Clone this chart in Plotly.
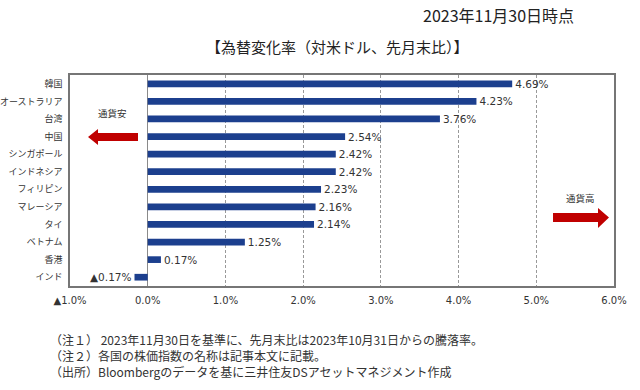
import plotly.graph_objects as go

categories = ["韓国", "オーストラリア", "台湾", "中国", "シンガポール", "インドネシア",
              "フィリピン", "マレーシア", "タイ", "ベトナム", "香港", "インド"]
values = [4.69, 4.23, 3.76, 2.54, 2.42, 2.42, 2.23, 2.16, 2.14, 1.25, 0.17, -0.17]
value_labels = ["4.69%", "4.23%", "3.76%", "2.54%", "2.42%", "2.42%", "2.23%",
                "2.16%", "2.14%", "1.25%", "0.17%", "▲0.17%"]
tick_vals = [-1, 0, 1, 2, 3, 4, 5, 6]
tick_text = ["▲1.0%", "0.0%", "1.0%", "2.0%", "3.0%", "4.0%", "5.0%", "6.0%"]

W, H = 640, 390
L, R, T, B = 70, 26, 75, 104
pw, ph = W - L - R, H - T - B


def px(x):
    return (x - L) / pw


def py(y):
    return (H - B - y) / ph


def arrow(points):
    return "M " + " L ".join(f"{px(a):.4f},{py(b):.4f}" for a, b in points) + " Z"


fig = go.Figure()
fig.add_trace(go.Bar(
    y=categories, x=values, orientation="h",
    marker=dict(color="#1c3f8e", line=dict(width=0)),
    text=value_labels, textposition="outside", cliponaxis=False,
    constraintext="none",
    textfont=dict(family="DejaVu Sans", size=10.5, color="#333333"),
    hoverinfo="skip",
))

fig.update_layout(
    width=W, height=H, margin=dict(l=L, r=R, t=T, b=B, autoexpand=False),
    paper_bgcolor="white", plot_bgcolor="white",
    bargap=0.62, showlegend=False,
    font=dict(family="Noto Sans CJK JP", color="#333333"),
    xaxis=dict(range=[-1, 6], tickvals=tick_vals, ticktext=tick_text,
               tickfont=dict(family="DejaVu Sans", size=10, color="#333333"),
               showgrid=True, gridcolor="#999999", griddash="3px,2px", gridwidth=1,
               zeroline=True, zerolinecolor="#8a8a8a", zerolinewidth=1.2,
               showline=True, linecolor="#767676", linewidth=1.5, mirror=True,
               ticks="outside", ticklen=4, tickcolor="rgba(0,0,0,0)",
               fixedrange=True, automargin=False),
    yaxis=dict(categoryorder="array", categoryarray=categories[::-1],
               tickfont=dict(family="Noto Sans CJK JP", size=9, color="#333333"),
               showgrid=False, showline=True, linecolor="#767676", linewidth=1.5,
               mirror=True, ticks="outside", ticklen=4, tickcolor="rgba(0,0,0,0)",
               fixedrange=True, automargin=False),
)


def note(text, x, y, size, color="#333333", xanchor="center"):
    fig.add_annotation(text=text, xref="paper", yref="paper", x=px(x), y=py(y),
                       xanchor=xanchor, yanchor="middle", showarrow=False,
                       font=dict(family="Noto Sans CJK JP", size=size, color=color))


note("2023年11月30日時点", 498, 15, 16, "#222222")
note("【為替変化率（対米ドル、先月末比）】", 337, 47, 15, "#222222")
note("通貨安", 112, 113, 9.5)
note("通貨高", 580, 198, 9.5)

notes = ["（注１） 2023年11月30日を基準に、先月末比は2023年10月31日からの騰落率。",
         "（注２）各国の株価指数の名称は記事本文に記載。",
         "（出所）Bloombergのデータを基に三井住友DSアセットマネジメント作成"]
for i, n in enumerate(notes):
    note(n, 48, 339 + 16 * i, 12, xanchor="left")

fig.add_shape(type="path", xref="paper", yref="paper", line=dict(width=0),
              fillcolor="#c00000",
              path=arrow([(138, 133), (98, 133), (98, 129), (88, 137), (98, 145), (98, 141), (138, 141)]))
fig.add_shape(type="path", xref="paper", yref="paper", line=dict(width=0),
              fillcolor="#c00000",
              path=arrow([(553, 213), (598, 213), (598, 208), (609, 217.5), (598, 228), (598, 222), (553, 222)]))

fig.write_html("out.html", config={"displayModeBar": False},
               post_script="document.body.style.margin='0';")
